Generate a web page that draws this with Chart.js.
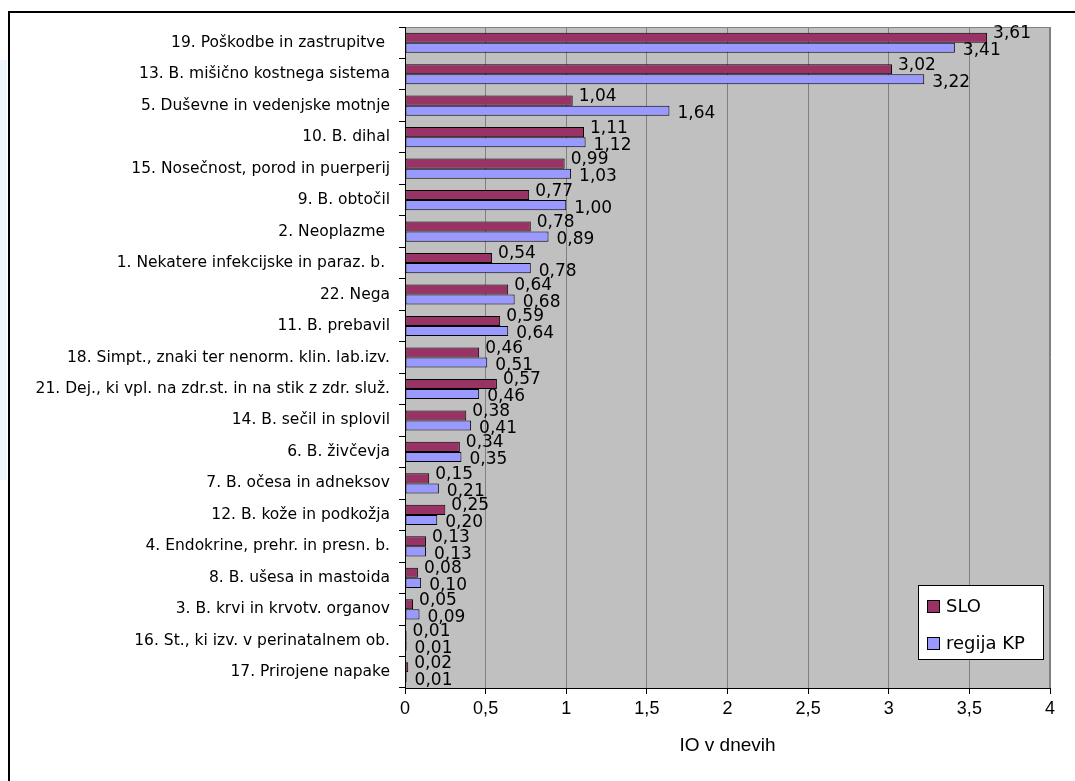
<!DOCTYPE html>
<html>
<head>
<meta charset="utf-8">
<script src="https://cdn.jsdelivr.net/npm/chart.js@4.4.1/dist/chart.umd.min.js"></script>
<style>
  html, body { margin: 0; padding: 0; background: #ffffff; }
  #wrap { position: relative; width: 1075px; height: 781px; overflow: hidden; }
  canvas { display: block; }
</style>
</head>
<body>
<div id="wrap"><canvas id="c" width="1075" height="781"></canvas></div>
<script>
const categories = [
  "19. Poškodbe in zastrupitve ",
  "13. B. mišično kostnega sistema",
  "5. Duševne in vedenjske motnje",
  "10. B. dihal",
  "15. Nosečnost, porod in puerperij",
  "9. B. obtočil",
  "2. Neoplazme ",
  "1. Nekatere infekcijske in paraz. b. ",
  "22. Nega",
  "11. B. prebavil",
  "18. Simpt., znaki ter nenorm. klin. lab.izv.",
  "21. Dej., ki vpl. na zdr.st. in na stik z zdr. služ.",
  "14. B. sečil in splovil",
  "6. B. živčevja",
  "7. B. očesa in adneksov",
  "12. B. kože in podkožja",
  "4. Endokrine, prehr. in presn. b.",
  "8. B. ušesa in mastoida",
  "3. B. krvi in krvotv. organov",
  "16. St., ki izv. v perinatalnem ob.",
  "17. Prirojene napake"
];
const sloValues = [3.61, 3.02, 1.04, 1.11, 0.99, 0.77, 0.78, 0.54, 0.64, 0.59, 0.46, 0.57, 0.38, 0.34, 0.15, 0.25, 0.13, 0.08, 0.05, 0.01, 0.02];
const kpValues  = [3.41, 3.22, 1.64, 1.12, 1.03, 1.00, 0.89, 0.78, 0.68, 0.64, 0.51, 0.46, 0.41, 0.35, 0.21, 0.20, 0.13, 0.10, 0.09, 0.01, 0.01];
const seriesNames = ["SLO", "regija KP"];
const xTicks = [0, 0.5, 1, 1.5, 2, 2.5, 3, 3.5, 4];
const xTitle = "IO v dnevih";

const fmt = v => v.toFixed(2).replace('.', ',');
const fmtTick = v => String(v).replace('.', ',');

const bgPlugin = {
  id: 'bg',
  beforeDraw(chart) {
    const {ctx, chartArea: a} = chart;
    ctx.save();
    ctx.fillStyle = '#ffffff';
    ctx.fillRect(0, 0, chart.width, chart.height);
    // faint watermark at the far left
    ctx.fillStyle = '#eef4fb';
    ctx.fillRect(0, 60, 7, 420);
    // outer frame
    ctx.strokeStyle = '#000000';
    ctx.lineWidth = 2;
    ctx.strokeRect(9, 12, 1100, 820);
    // plot area
    ctx.fillStyle = '#C0C0C0';
    ctx.fillRect(a.left, a.top, a.right - a.left, a.bottom - a.top);
    ctx.strokeStyle = '#808080';
    ctx.lineWidth = 1;
    ctx.strokeRect(a.left + 0.5, a.top + 0.5, a.right - a.left - 1, a.bottom - a.top);
    ctx.restore();
  }
};

const labelPlugin = {
  id: 'labels',
  afterDatasetsDraw(chart) {
    const {ctx} = chart;
    ctx.save();
    ctx.font = '17px "DejaVu Sans"';
    ctx.fillStyle = '#000000';
    ctx.textAlign = 'left';
    ctx.textBaseline = 'middle';
    chart.data.datasets.forEach((ds, di) => {
      const meta = chart.getDatasetMeta(di);
      meta.data.forEach((bar, i) => {
        const dx = di === 0 ? 6 : 8;
        const dy = di === 0 ? -4 : 3;
        ctx.fillText(fmt(ds.data[i]), bar.x + dx, bar.y + dy);
      });
    });
    ctx.restore();
  },
  afterDraw(chart) {
    const {ctx} = chart;
    ctx.save();
    // legend
    const lx = 918, ly = 585, lw = 125, lh = 74;
    ctx.fillStyle = '#ffffff';
    ctx.fillRect(lx, ly, lw, lh);
    ctx.strokeStyle = '#000000';
    ctx.lineWidth = 1;
    ctx.strokeRect(lx + 0.5, ly + 0.5, lw, lh);
    ctx.font = '18px "DejaVu Sans"';
    ctx.textBaseline = 'middle';
    ctx.textAlign = 'left';
    chart.data.datasets.forEach((ds, di) => {
      const cy = ly + 21 + di * 37;
      ctx.fillStyle = ds.backgroundColor;
      ctx.fillRect(927, cy - 6, 12, 12);
      ctx.strokeStyle = '#000000';
      ctx.strokeRect(927.5, cy - 5.5, 12, 12);
      ctx.fillStyle = '#000000';
      ctx.fillText(ds.label, 946, cy + 1);
    });
    ctx.restore();
  }
};

new Chart(document.getElementById('c'), {
  type: 'bar',
  data: {
    labels: categories,
    datasets: [
      { label: seriesNames[0], data: sloValues, backgroundColor: '#993366', borderColor: '#000000', borderWidth: 1, borderSkipped: false },
      { label: seriesNames[1], data: kpValues, backgroundColor: '#9999FF', borderColor: '#000000', borderWidth: 1, borderSkipped: false }
    ]
  },
  options: {
    indexAxis: 'y',
    responsive: false,
    animation: false,
    devicePixelRatio: 1,
    layout: { padding: { top: 27, right: 25, left: 0, bottom: 0 } },
    categoryPercentage: 0.64,
    barPercentage: 1.0,
    plugins: { legend: { display: false }, tooltip: { enabled: false }, title: { display: false } },
    scales: {
      x: {
        type: 'linear',
        min: 0, max: 4,
        afterBuildTicks(scale) { scale.ticks = xTicks.map(v => ({ value: v })); },
        afterFit(scale) { scale.height = 93; },
        ticks: {
          callback: v => fmtTick(v),
          color: '#000000',
          font: { family: 'Liberation Sans', size: 18 },
          padding: 4
        },
        grid: { color: '#808080', tickColor: '#000000', tickLength: 6, drawOnChartArea: true },
        border: { display: true, color: '#000000', width: 1 },
        title: { display: true, text: xTitle, color: '#000000', font: { family: 'Liberation Sans', size: 19 }, padding: { top: 12, bottom: 24 } }
      },
      y: {
        type: 'category',
        afterFit(scale) { scale.width = 405; },
        ticks: {
          color: '#000000',
          font: { family: 'DejaVu Sans', size: 15.5 },
          padding: 9,
          autoSkip: false
        },
        grid: { offset: true, drawOnChartArea: false, tickColor: '#000000', tickLength: 6 },
        border: { display: true, color: '#000000', width: 1 }
      }
    }
  },
  plugins: [bgPlugin, labelPlugin]
});
</script>
</body>
</html>
